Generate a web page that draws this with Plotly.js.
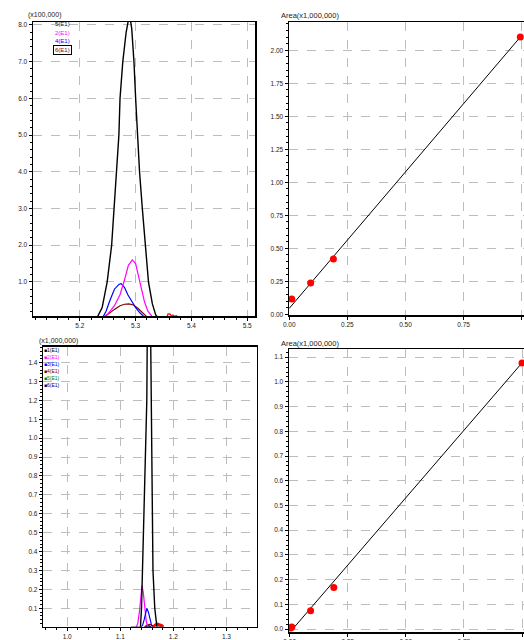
<!DOCTYPE html>
<html>
<head>
<meta charset="utf-8">
<script src="https://cdn.plot.ly/plotly-3.0.1.min.js"></script>
<style>html,body{margin:0;padding:0;background:#fff;}#chart{width:524px;height:640px;}</style>
</head>
<body>
<div id="chart"></div>
<script>
// ---------- Panel 1: chromatogram (x100,000) ----------
const p1BlackX = [5.225,5.230,5.240,5.249,5.257,5.261,5.266,5.270,5.272,5.277,5.283,5.289,5.293,5.297,5.300,5.303,5.307,5.312,5.317,5.323,5.330,5.336,5.342,5.350];
const p1BlackY = [0.0,0.0,0.3,1.0,2.0,3.0,4.0,5.0,6.0,7.0,7.8,8.3,7.9,7.0,6.0,5.0,4.0,3.0,2.0,1.0,0.4,0.1,0.0,0.0];
const p1MagX = [5.239,5.250,5.262,5.272,5.280,5.287,5.294,5.300,5.306,5.310,5.316,5.322,5.330,5.337];
const p1MagY = [0.0,0.12,0.35,0.65,1.05,1.45,1.6,1.5,1.1,0.8,0.45,0.2,0.05,0.0];
const p1BlueX = [5.240,5.247,5.254,5.262,5.270,5.274,5.280,5.286,5.292,5.300,5.308,5.315,5.321];
const p1BlueY = [0.0,0.2,0.5,0.8,0.93,0.95,0.85,0.65,0.5,0.3,0.15,0.05,0.0];
const p1BrownX = [5.240,5.250,5.262,5.272,5.280,5.288,5.296,5.304,5.312,5.320,5.328];
const p1BrownY = [0.0,0.12,0.25,0.35,0.39,0.40,0.37,0.28,0.15,0.05,0.0];
const p1RedX = [5.355,5.358,5.362,5.364,5.367,5.370,5.373,5.377,5.380];
const p1RedY = [0.0,0.13,0.12,0.07,0.1,0.06,0.08,0.04,0.0];
const p1LegendNames = ["5(E1)","2(E1)","4(E1)","6(E1)"];
const p1LegendColors = ["#14143c","#ff00ff","#0000ff","#800000"];

// ---------- Panel 2: calibration curve ----------
const p2PointsX = [0.011,0.092,0.19,0.994];
const p2PointsY = [0.116,0.237,0.42,2.10];
const p2FitX = [0.0,0.994];
const p2FitY = [0.045,2.10];

// ---------- Panel 3: chromatogram (x1,000,000) ----------
const p3BlackX = [1.120,1.138,1.140,1.142,1.1447,1.150,1.1535,1.158,1.1598,1.1616,1.165,1.169,1.180];
const p3BlackY = [0.0,0.0,0.1,0.3,0.7,1.2,2.6,1.2,0.7,0.3,0.1,0.0,0.0];
const p3MagX = [1.130,1.133,1.136,1.139,1.141,1.1435,1.146,1.149,1.152];
const p3MagY = [0.0,0.02,0.08,0.17,0.22,0.18,0.1,0.03,0.0];
const p3BlueX = [1.139,1.142,1.145,1.148,1.150,1.153,1.156,1.159,1.162];
const p3BlueY = [0.0,0.01,0.04,0.08,0.1,0.08,0.04,0.01,0.0];
const p3BrownX = [1.145,1.150,1.155,1.160,1.165];
const p3BrownY = [0.0,0.01,0.015,0.01,0.0];
const p3GreenX = [1.146,1.150,1.154,1.158];
const p3GreenY = [0.0,0.005,0.006,0.0];
const p3NavyX = [1.147,1.151,1.155,1.159];
const p3NavyY = [0.0,0.006,0.007,0.0];
const p3RedX = [1.162,1.166,1.170,1.174,1.178,1.181];
const p3RedY = [0.0,0.012,0.016,0.014,0.008,0.0];
const p3LegendNames = ["1(E1)","2(E1)","3(E1)","4(E1)","5(E1)","6(E1)"];
const p3LegendColors = ["#000000","#ff00ff","#0000ff","#800000","#008000","#000080"];

// ---------- Panel 4: calibration curve ----------
const p4PointsX = [0.004,0.009,0.09,0.19,1.0];
const p4PointsY = [0.004,0.008,0.074,0.168,1.077];
const p4FitX = [0.013,1.0];
const p4FitY = [0.0,1.077];

const FONT = "Liberation Sans, Arial, sans-serif";
function line(x, y, color, xa, ya, w) {
  return {x: x, y: y, type: 'scatter', mode: 'lines', xaxis: xa, yaxis: ya,
          line: {color: color, width: w || 1.2}, showlegend: false, hoverinfo: 'skip'};
}
const traces = [
  line(p1BrownX, p1BrownY, '#800000', 'x', 'y'),
  line(p1BlueX, p1BlueY, '#0000ff', 'x', 'y'),
  line(p1MagX, p1MagY, '#ff00ff', 'x', 'y'),
  line(p1RedX, p1RedY, '#ff0000', 'x', 'y'),
  line(p1BlackX, p1BlackY, '#000000', 'x', 'y', 1.4),
  line(p2FitX, p2FitY, '#000000', 'x2', 'y2', 1),
  {x: p2PointsX, y: p2PointsY, type: 'scatter', mode: 'markers', xaxis: 'x2', yaxis: 'y2',
   marker: {color: '#ff0000', size: 7, symbol: 'circle'}, showlegend: false},
  line(p3GreenX, p3GreenY, '#008000', 'x3', 'y3'),
  line(p3NavyX, p3NavyY, '#000080', 'x3', 'y3'),
  line(p3BrownX, p3BrownY, '#800000', 'x3', 'y3'),
  line(p3MagX, p3MagY, '#ff00ff', 'x3', 'y3'),
  line(p3BlueX, p3BlueY, '#0000ff', 'x3', 'y3'),
  line(p3RedX, p3RedY, '#ff0000', 'x3', 'y3', 3),
  line(p3BlackX, p3BlackY, '#000000', 'x3', 'y3', 1.4),
  line(p4FitX, p4FitY, '#000000', 'x4', 'y4', 1),
  {x: p4PointsX, y: p4PointsY, type: 'scatter', mode: 'markers', xaxis: 'x4', yaxis: 'y4',
   marker: {color: '#ff0000', size: 7, symbol: 'circle'}, showlegend: false}
];

const W = 524, H = 640;
function px2x(p) { return p / W; }
function px2y(p) { return 1 - p / H; }

function axis(opts) {
  const a = {
    showline: true, linecolor: '#000', linewidth: 1.5,
    ticks: 'outside', ticklen: 3, tickwidth: 1, tickcolor: '#000',
    showgrid: true, gridcolor: '#bdbdbd', gridwidth: 1, griddash: 'dash',
    zeroline: false, tickfont: {family: FONT, size: 6.5, color: '#222'},
    fixedrange: true
  };
  return Object.assign(a, opts);
}

const layout = {
  width: W, height: H,
  margin: {l: 0, r: 0, t: 0, b: 0},
  paper_bgcolor: '#fff', plot_bgcolor: '#fff',
  showlegend: false,
  font: {family: FONT, size: 6, color: '#222'},
  xaxis: axis({domain: [px2x(33), px2x(255)], anchor: 'y', range: [5.116, 5.514],
    dtick: 0.1, tick0: 5.0, tickformat: '.1f', mirror: true,
    minor: {dtick: 0.02, ticklen: 2, ticks: 'outside', tickcolor: '#000', showgrid: false}}),
  yaxis: axis({domain: [px2y(316), px2y(22)], anchor: 'x', range: [0.07, 8.08],
    dtick: 1, tick0: 0, tickformat: '.1f', mirror: true,
    minor: {dtick: 0.2, ticklen: 2, ticks: 'outside', tickcolor: '#000', showgrid: false}}),
  xaxis2: axis({domain: [px2x(289), 1], anchor: 'y2', range: [-0.001, 1.0099],
    dtick: 0.25, tick0: 0, tickformat: '.2f', mirror: true}),
  yaxis2: axis({domain: [px2y(315), px2y(22)], anchor: 'x2', range: [-0.005, 2.214],
    dtick: 0.25, tick0: 0, tickformat: '.2f',
    minor: {dtick: 0.05, ticklen: 2, ticks: 'outside', tickcolor: '#000', showgrid: false}}),
  xaxis3: axis({domain: [px2x(43.3), px2x(256.7)], anchor: 'y3', range: [0.955, 1.357],
    dtick: 0.1, tick0: 1.0, tickformat: '.1f', mirror: true,
    minor: {dtick: 0.02, ticklen: 2, ticks: 'outside', tickcolor: '#000', showgrid: false}}),
  yaxis3: axis({domain: [px2y(626.7), px2y(346.7)], anchor: 'x3', range: [0.0026, 1.484],
    dtick: 0.1, tick0: 0, tickformat: '.1f', mirror: true,
    minor: {dtick: 0.02, ticklen: 2, ticks: 'outside', tickcolor: '#000', showgrid: false}}),
  xaxis4: axis({domain: [px2x(289), 1], anchor: 'y4', range: [-0.003, 1.0086],
    dtick: 0.25, tick0: 0, tickformat: '.2f', mirror: true}),
  yaxis4: axis({domain: [px2y(632), px2y(349.3)], anchor: 'x4', range: [-0.012, 1.132],
    dtick: 0.1, tick0: 0, tickformat: '.1f',
    minor: {dtick: 0.02, ticklen: 2, ticks: 'outside', tickcolor: '#000', showgrid: false}}),
  annotations: [],
  shapes: []
};

function ann(text, xpx, ypx, color, size, extra) {
  return Object.assign({text: text, xref: 'paper', yref: 'paper', x: px2x(xpx), y: px2y(ypx),
    xanchor: 'left', yanchor: 'middle', showarrow: false,
    font: {family: FONT, size: size || 6, color: color || '#222'}}, extra || {});
}
layout.annotations.push(ann('(x100,000)', 26, 15, '#222', 7));
layout.annotations.push(ann('Area(x1,000,000)', 279, 15, '#222', 7.5));
layout.annotations.push(ann('(x1,000,000)', 37, 341, '#222', 7));
layout.annotations.push(ann('Area(x1,000,000)', 279, 343, '#222', 7.5));

// panel 1 legend (text only, last one boxed)
p1LegendNames.forEach(function(n, i) {
  const extra = (i === p1LegendNames.length - 1) ? {bordercolor: '#000', borderwidth: 1, borderpad: 1} : {};
  layout.annotations.push(ann(n, 53, 24 + i * 8.6, p1LegendColors[i], 6, extra));
});
// panel 3 legend (colored square + text)
p3LegendNames.forEach(function(n, i) {
  layout.annotations.push(ann('<span style="color:' + p3LegendColors[i] + '">■</span>' + n,
    42, 350 + i * 7, p3LegendColors[i], 5));
});

Plotly.newPlot('chart', traces, layout, {staticPlot: true, displayModeBar: false});
</script>
</body>
</html>
